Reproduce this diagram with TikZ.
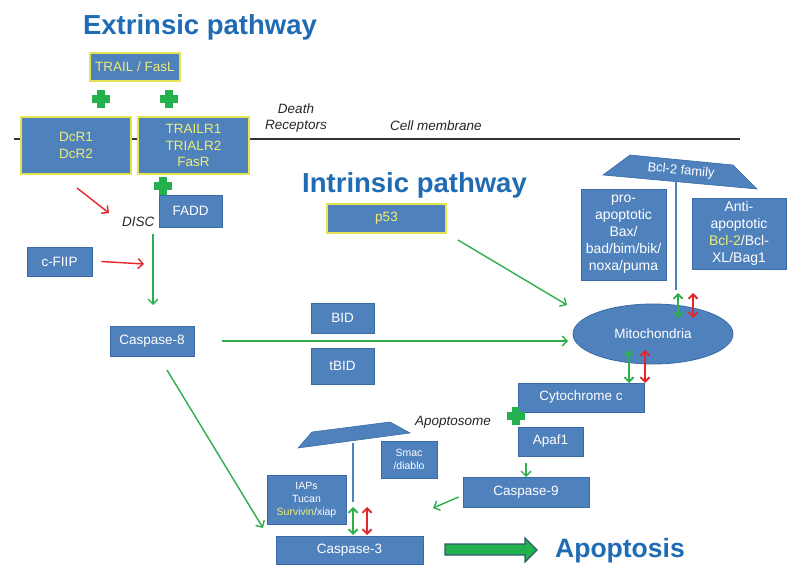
\documentclass[tikz,border=0pt]{standalone}
\usepackage{fontspec}
\setmainfont{Liberation Sans}
\usetikzlibrary{arrows.meta,shapes.geometric}
\definecolor{boxblue}{HTML}{4F81BD}
\definecolor{boxedge}{HTML}{3A6BA5}
\definecolor{ylw}{HTML}{E4E452}
\definecolor{ytext}{HTML}{EEEE72}
\definecolor{titleblue}{HTML}{1F6CB4}
\definecolor{grn}{HTML}{2DB04B}
\definecolor{crossgreen}{HTML}{22B14C}
\definecolor{rd}{HTML}{E2262B}
\definecolor{arrowedge}{HTML}{2E5A6A}
\begin{document}
\begin{tikzpicture}[x=1pt,y=-1pt,
  bx/.style={draw=boxedge, fill=boxblue, line width=0.8pt, text=white,
    font=\fontsize{13.5}{16.5}\selectfont, align=center, inner sep=0pt},
  ybx/.style={bx, draw=ylw, line width=1.6pt, text=ytext},
  sz/.style 2 args={minimum width=#1, minimum height=#2},
  smallbx/.style={bx, font=\fontsize{10.5}{13}\selectfont},
  titletxt/.style={text=titleblue, font=\fontsize{27.5}{30}\bfseries\selectfont, inner sep=0pt},
  lbl/.style={font=\fontsize{13.5}{16}\itshape\selectfont, text=black!85, inner sep=0pt, align=center},
  garrow/.style={draw=grn, line width=1.4pt, -{Straight Barb[length=5pt,width=10pt]}},
  rarrow/.style={draw=rd, line width=1.4pt, -{Straight Barb[length=5pt,width=10pt]}},
  gdouble/.style={draw=grn, line width=1.8pt, {Straight Barb[length=4.5pt,width=9pt]}-{Straight Barb[length=4.5pt,width=9pt]}},
  rdouble/.style={draw=rd, line width=1.8pt, {Straight Barb[length=4.5pt,width=9pt]}-{Straight Barb[length=4.5pt,width=9pt]}},
  stem/.style={draw=boxblue, line width=1.6pt},
  membrane/.style={draw=black!80, line width=1.4pt},
  greencross/.pic={\fill[crossgreen] (-9,-3.8) rectangle (9,3.8);
                   \fill[crossgreen] (-3.8,-9) rectangle (3.8,9);}
]
\useasboundingbox (0,0) rectangle (792,580);
\fill[white] (0,0) rectangle (792,580);

% titles
\node[titletxt, anchor=base] (exttitle) at (200,34.5) {Extrinsic pathway};
\node[titletxt, anchor=base west] (inttitle) at (302,193) {Intrinsic pathway};
\node[titletxt, font=\fontsize{26.5}{30}\bfseries\selectfont, anchor=base west] (apoptosis) at (555,557) {Apoptosis};

% membrane
\coordinate (mstart) at (14,139);
\coordinate (mend) at (740,139);
\draw[membrane] (mstart) -- (mend);

% boxes
\node[ybx, sz={90}{28}] (trail) at (135,67) {TRAIL / FasL};
\node[ybx, sz={110}{57}] (dcr) at (76,145.5) {DcR1\\DcR2};
\node[ybx, sz={111}{57}] (trailr) at (193.5,145.5) {TRAILR1\\TRIALR2\\FasR};
\node[bx, sz={63}{32}] (fadd) at (190.5,211) {FADD};
\node[ybx, sz={119}{29}] (p53) at (386.5,218.5) {p53};
\node[bx, sz={65}{29}] (cfiip) at (59.5,261.5) {c-FIIP};
\node[bx, sz={84}{30}] (casp8) at (152,341) {Caspase-8};
\node[bx, sz={63}{30}] (bid) at (342.5,318) {BID};
\node[bx, sz={63}{36}] (tbid) at (342.5,366) {tBID};
\node[bx, ellipse, sz={160}{60}] (mito) at (653,334) {Mitochondria};
\node[bx, sz={85}{91}, font=\fontsize{14}{17}\selectfont] (pro) at (623.5,234.5) {pro-\\apoptotic\\Bax/\\bad/bim/bik/\\noxa/puma};
\node[bx, sz={94}{71}, font=\fontsize{14}{17}\selectfont] (anti) at (739,233.5) {Anti-\\apoptotic\\\textcolor{ytext}{Bcl-2}/Bcl-\\XL/Bag1};
\node[bx, sz={126}{29}] (cyto) at (581,397.5) {Cytochrome c};
\node[bx, sz={65}{29}] (apaf) at (550.5,441.5) {Apaf1};
\node[bx, sz={126}{30}] (casp9) at (526,492) {Caspase-9};
\node[smallbx, sz={56}{37}] (smac) at (409,459.5) {Smac\\/diablo};
\node[smallbx, sz={79}{49}] (iaps) at (306.5,499.5) {IAPs\\Tucan\\\textcolor{ytext}{Survivin}/xiap};
\node[bx, sz={147}{28}] (casp3) at (349.5,550) {Caspase-3};

% Bcl-2 family and apoptosome shapes
\fill[boxblue, draw=boxedge, line width=0.6pt] (630,155) -- (733,165) -- (757,189) -- (603,175) -- cycle;
\node[text=white, font=\fontsize{13}{15}\selectfont, rotate=-5.5, inner sep=0pt] (bcl) at (681,171) {Bcl-2 family};
\fill[boxblue, draw=boxedge, line width=0.6pt] (312,432) -- (390,422) -- (410,433) -- (298,448) -- cycle;
\coordinate (apoptosome) at (354,436);

% labels
\node[lbl] (death) at (296,118) {Death\\Receptors};
\node[lbl, anchor=base west] (cellm) at (390,131) {Cell membrane};
\node[lbl, anchor=base west] (disc) at (122,226) {DISC};
\node[lbl, anchor=base west] (apolbl) at (415,425.5) {Apoptosome};

% crosses
\pic at (101,99) {greencross};
\pic at (169,99) {greencross};
\pic at (163,186) {greencross};
\pic at (516,416) {greencross};

% connectors
\coordinate (r1s) at (77,188); \coordinate (r1e) at (109,213);
\draw[rarrow] (r1s) -- (r1e);
\coordinate (c1e) at (144,264);
\draw[rarrow] ([xshift=9pt]cfiip.east) -- (c1e);
\coordinate (discdown) at (153,234);
\coordinate (discend) at (153,305);
\draw[garrow] (discdown) -- (discend);
\coordinate (mitoin) at (568,341);
\draw[garrow] ([xshift=28pt]casp8.east) -- (mitoin);
\coordinate (p53s) at (458,240); \coordinate (p53e) at (567,305);
\draw[garrow] (p53s) -- (p53e);
\coordinate (c8s) at (167,370); \coordinate (c3e) at (263,528);
\draw[garrow] (c8s) -- (c3e);

% Bcl-2 stem and arrows
\coordinate (bclstem) at (676,180); \coordinate (bclstemend) at (676,290);
\draw[stem] (bclstem) -- (bclstemend);
\draw[gdouble] (678,293) -- (678,318);
\draw[rdouble] (693,293) -- (693,318);
% mito - cyto
\draw[gdouble] (629,350) -- (629,383);
\draw[rdouble] (645,350) -- (645,383);
% apaf -> casp9
\coordinate (apafout) at (526,463);
\coordinate (casp9in) at (526,477);
\draw[garrow] (apafout) -- (casp9in);
% casp9 -> casp3
\coordinate (c9e) at (433,508);
\draw[garrow] ([xshift=-4pt,yshift=-5pt]casp9.west) -- (c9e);
% apoptosome stem and arrows
\coordinate (apostem) at (353,443); \coordinate (apostemend) at (353,502);
\draw[stem] (apostem) -- (apostemend);
\draw[gdouble] (353,507) -- (353,535);
\draw[rdouble] (367,507) -- (367,535);

% big arrow
\draw[fill=crossgreen, draw=arrowedge, line width=1.1pt, line join=miter]
  (445,544) -- (525,544) -- (525,538) -- (537,550) -- (525,562) -- (525,555) -- (445,555) -- cycle;
\end{tikzpicture}
\end{document}
